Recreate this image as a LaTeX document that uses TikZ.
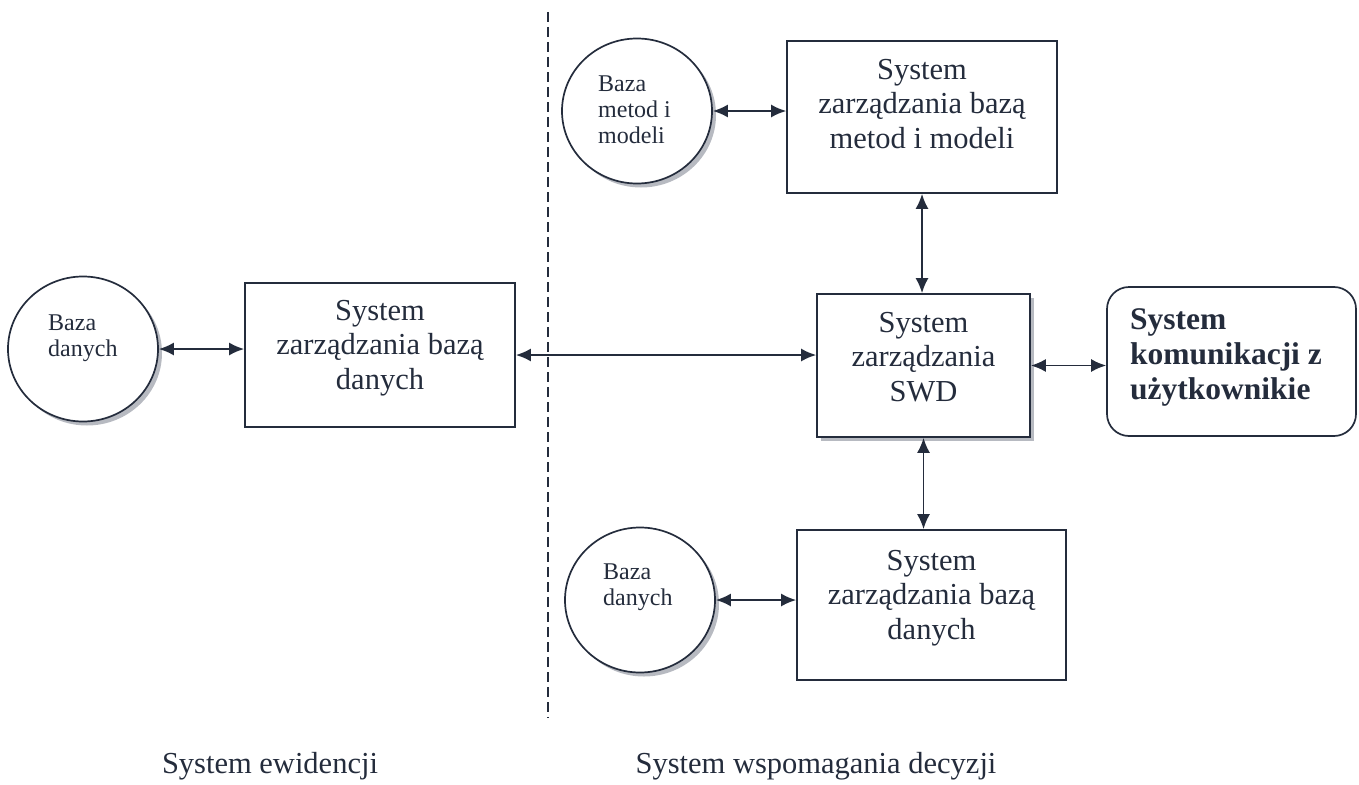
\documentclass[tikz,border=0pt]{standalone}
\usepackage{fontspec}
\setmainfont{Liberation Serif}
\usetikzlibrary{arrows.meta,shapes.geometric,shadows}
\definecolor{ink}{RGB}{36,44,60}
\definecolor{shade}{RGB}{175,178,186}
\begin{document}
\begin{tikzpicture}[x=1pt,y=-1pt,
  box/.style={draw=ink,line width=1.7pt,rectangle,inner sep=0pt},
  shadowed/.style={fill=white,drop shadow={shadow xshift=4pt,shadow yshift=-4pt,fill=shade,opacity=0.9}},
  dbase/.style={draw=ink,line width=1.7pt,ellipse,inner sep=0pt,minimum width=150pt,minimum height=145pt,shadowed},
  bigtext/.style={text=ink,font=\fontsize{30.5}{34.5}\selectfont,align=center,inner sep=0pt},
  smalltext/.style={text=ink,font=\fontsize{24}{26}\selectfont,align=left,inner sep=0pt,anchor=west},
  boldtext/.style={text=ink,font=\fontsize{31.5}{35}\selectfont\bfseries,align=left,inner sep=0pt,anchor=west},
  link/.style={draw=ink,line width=1.8pt,{Latex[length=15pt,width=13pt]}-{Latex[length=15pt,width=13pt]}},
]
\useasboundingbox (0,0) rectangle (1359,784);

% dividing line
\coordinate (dtop) at (548,12);
\coordinate (dbot) at (548,718);
\draw[ink,line width=1.8pt,dash pattern=on 10pt off 5pt] (dtop) -- (dbot);

% top: methods and models
\node[dbase] (mb) at (637,111) {};
\node[smalltext] (mbt) at (598,112) {Baza\\metod i\\modeli\vphantom{y}};
\node[box,minimum width=270pt,minimum height=152pt] (mm) at (922,117) {};
\node[bigtext] (mmt) at (922,107) {System\\zarządzania bazą\\metod i modeli\vphantom{y}};

% centre: SWD
\node[box,minimum width=213pt,minimum height=143pt,shadowed] (swd) at (923.5,365.5) {};
\node[bigtext] (swdt) at (923.5,360) {System\\zarządzania\\SWD\vphantom{y}};

% user communication
\node[draw=ink,line width=1.7pt,rounded corners=22pt,minimum width=249pt,minimum height=149pt,inner sep=0pt] (kom) at (1231.5,361.5) {};
\node[boldtext] (komt) at (1130,357) {System\\komunikacji z\\użytkownikie};

% left: records system
\node[dbase] (ldb) at (83,349) {};
\node[smalltext] (ldbt) at (48,338) {Baza\\danych};
\node[box,minimum width=270pt,minimum height=144pt] (ldbm) at (380,355) {};
\node[bigtext] (ldbmt) at (380,348) {System\\zarządzania bazą\\danych};

% bottom: database
\node[dbase] (bdb) at (640,600) {};
\node[smalltext] (bdbt) at (603,587) {Baza\\danych};
\node[box,minimum width=269pt,minimum height=150pt] (bdm) at (931.5,605) {};
\node[bigtext] (bdmt) at (931.5,598) {System\\zarządzania bazą\\danych};

% captions
\node[bigtext] (lev) at (270,766) {System ewidencji};
\node[bigtext] (lwd) at (816,766) {System wspomagania decyzji};

% connectors
\draw[link] (mb.east) -- (mb.east -| mm.west);
\draw[link] (mm.south) -- (mm.south |- swd.north);
\draw[link] (swd.south) -- (swd.south |- bdm.north);
\draw[link] (ldb.east) -- (ldb.east -| ldbm.west);
\draw[link] (ldbm.east) -- (ldbm.east -| swd.west);
\draw[link] (swd.east) -- (swd.east -| kom.west);
\draw[link] (bdb.east) -- (bdb.east -| bdm.west);
\end{tikzpicture}
\end{document}
